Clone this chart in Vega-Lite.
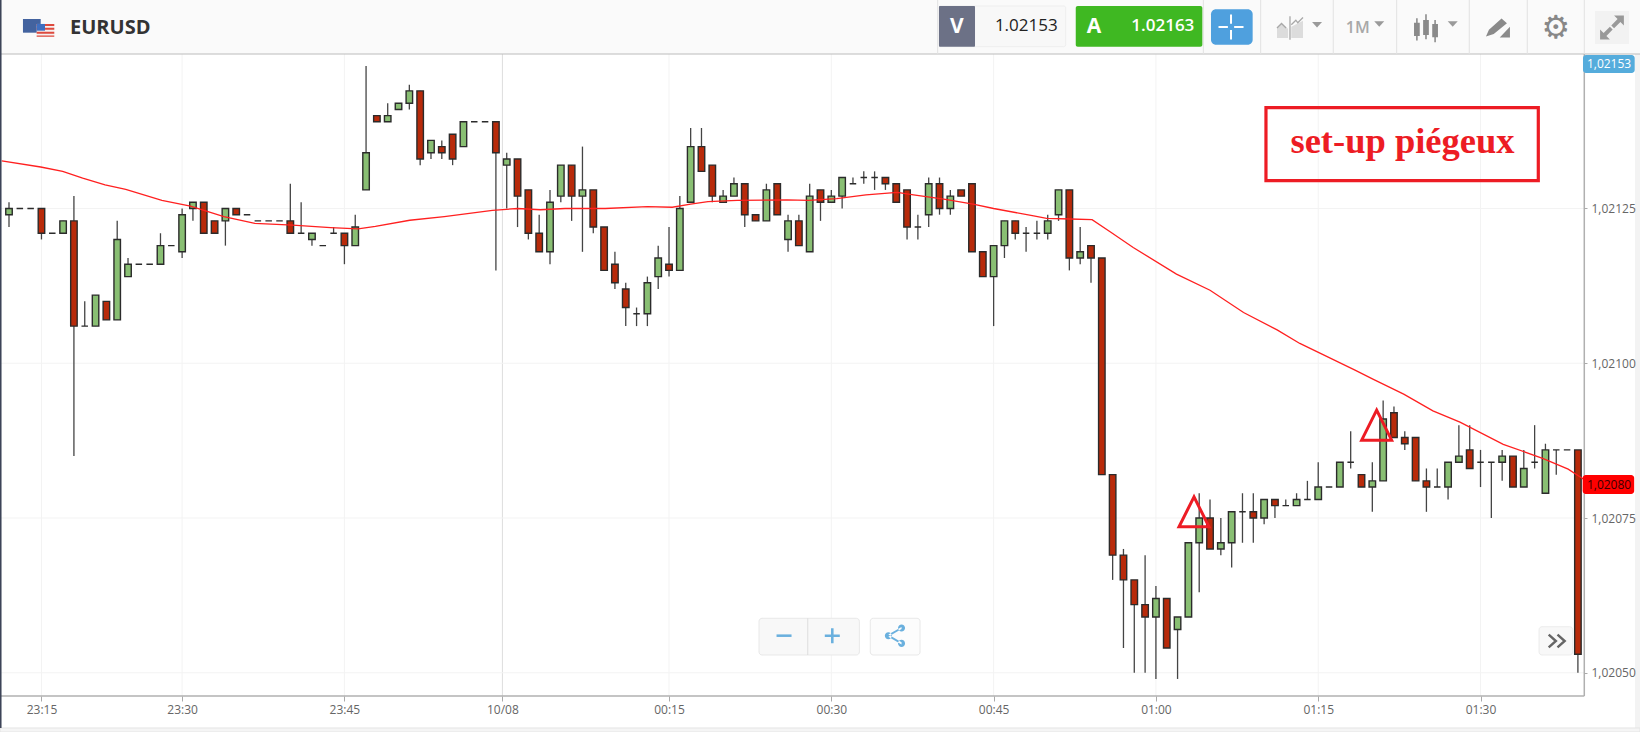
{
  "$schema": "https://vega.github.io/schema/vega-lite/v6.json",
  "width": 1640,
  "height": 732,
  "autosize": "none",
  "padding": 0,
  "background": "#ffffff",
  "config": {
    "view": {"stroke": null},
    "axis": {"labelFont": "Open Sans", "labelFontSize": 12, "labelColor": "#666666", "labelLimit": 0},
    "text": {"font": "Open Sans"}
  },
  "datasets": {
    "candles": [
      {"i":0,"open":1.02124,"high":1.02126,"low":1.02122,"close":1.02125},
      {"i":1,"open":1.02125,"high":1.02125,"low":1.02125,"close":1.02125},
      {"i":2,"open":1.02125,"high":1.02125,"low":1.02125,"close":1.02125},
      {"i":3,"open":1.02125,"high":1.02125,"low":1.0212,"close":1.02121},
      {"i":4,"open":1.02121,"high":1.02121,"low":1.02121,"close":1.02121},
      {"i":5,"open":1.02121,"high":1.02123,"low":1.02121,"close":1.02123},
      {"i":6,"open":1.02123,"high":1.02127,"low":1.02085,"close":1.02106},
      {"i":7,"open":1.02106,"high":1.0211,"low":1.02106,"close":1.02106},
      {"i":8,"open":1.02106,"high":1.02111,"low":1.02106,"close":1.02111},
      {"i":9,"open":1.0211,"high":1.0211,"low":1.02107,"close":1.02107},
      {"i":10,"open":1.02107,"high":1.02123,"low":1.02107,"close":1.0212},
      {"i":11,"open":1.02114,"high":1.02117,"low":1.02114,"close":1.02116},
      {"i":12,"open":1.02116,"high":1.02116,"low":1.02116,"close":1.02116},
      {"i":13,"open":1.02116,"high":1.02116,"low":1.02116,"close":1.02116},
      {"i":14,"open":1.02116,"high":1.02121,"low":1.02116,"close":1.02119},
      {"i":15,"open":1.02119,"high":1.02119,"low":1.02119,"close":1.02119},
      {"i":16,"open":1.02118,"high":1.02125,"low":1.02117,"close":1.02124},
      {"i":17,"open":1.02125,"high":1.02126,"low":1.02123,"close":1.02126},
      {"i":18,"open":1.02126,"high":1.02126,"low":1.02121,"close":1.02121},
      {"i":19,"open":1.02123,"high":1.02123,"low":1.02121,"close":1.02121},
      {"i":20,"open":1.02123,"high":1.02125,"low":1.02119,"close":1.02125},
      {"i":21,"open":1.02125,"high":1.02125,"low":1.02124,"close":1.02124},
      {"i":22,"open":1.02124,"high":1.02124,"low":1.02124,"close":1.02124},
      {"i":23,"open":1.02123,"high":1.02123,"low":1.02123,"close":1.02123},
      {"i":24,"open":1.02123,"high":1.02123,"low":1.02123,"close":1.02123},
      {"i":25,"open":1.02123,"high":1.02123,"low":1.02123,"close":1.02123},
      {"i":26,"open":1.02123,"high":1.02129,"low":1.02121,"close":1.02121},
      {"i":27,"open":1.02121,"high":1.02126,"low":1.02121,"close":1.02121},
      {"i":28,"open":1.0212,"high":1.02121,"low":1.02119,"close":1.02121},
      {"i":29,"open":1.02119,"high":1.02119,"low":1.02119,"close":1.02119},
      {"i":30,"open":1.02121,"high":1.02122,"low":1.02121,"close":1.02121},
      {"i":31,"open":1.02121,"high":1.02121,"low":1.02116,"close":1.02119},
      {"i":32,"open":1.02119,"high":1.02124,"low":1.02119,"close":1.02122},
      {"i":33,"open":1.02128,"high":1.02148,"low":1.02128,"close":1.02134},
      {"i":34,"open":1.0214,"high":1.0214,"low":1.02139,"close":1.02139},
      {"i":35,"open":1.02139,"high":1.02142,"low":1.02139,"close":1.0214},
      {"i":36,"open":1.02141,"high":1.02142,"low":1.02141,"close":1.02142},
      {"i":37,"open":1.02142,"high":1.02145,"low":1.02141,"close":1.02144},
      {"i":38,"open":1.02144,"high":1.02144,"low":1.02132,"close":1.02133},
      {"i":39,"open":1.02134,"high":1.02136,"low":1.02133,"close":1.02136},
      {"i":40,"open":1.02135,"high":1.02136,"low":1.02133,"close":1.02134},
      {"i":41,"open":1.02137,"high":1.02137,"low":1.02132,"close":1.02133},
      {"i":42,"open":1.02135,"high":1.02139,"low":1.02135,"close":1.02139},
      {"i":43,"open":1.02139,"high":1.02139,"low":1.02139,"close":1.02139},
      {"i":44,"open":1.02139,"high":1.02139,"low":1.02139,"close":1.02139},
      {"i":45,"open":1.02139,"high":1.02139,"low":1.02115,"close":1.02134},
      {"i":46,"open":1.02132,"high":1.02134,"low":1.02125,"close":1.02133},
      {"i":47,"open":1.02133,"high":1.02133,"low":1.02122,"close":1.02127},
      {"i":48,"open":1.02128,"high":1.02128,"low":1.0212,"close":1.02121},
      {"i":49,"open":1.02121,"high":1.02124,"low":1.02118,"close":1.02118},
      {"i":50,"open":1.02118,"high":1.02128,"low":1.02116,"close":1.02126},
      {"i":51,"open":1.02127,"high":1.02132,"low":1.02126,"close":1.02132},
      {"i":52,"open":1.02132,"high":1.02132,"low":1.02123,"close":1.02127},
      {"i":53,"open":1.02127,"high":1.02135,"low":1.02118,"close":1.02128},
      {"i":54,"open":1.02128,"high":1.02128,"low":1.02121,"close":1.02122},
      {"i":55,"open":1.02122,"high":1.02122,"low":1.02115,"close":1.02115},
      {"i":56,"open":1.02116,"high":1.02118,"low":1.02112,"close":1.02113},
      {"i":57,"open":1.02112,"high":1.02113,"low":1.02106,"close":1.02109},
      {"i":58,"open":1.02108,"high":1.02109,"low":1.02106,"close":1.02108},
      {"i":59,"open":1.02108,"high":1.02114,"low":1.02106,"close":1.02113},
      {"i":60,"open":1.02114,"high":1.02119,"low":1.02112,"close":1.02117},
      {"i":61,"open":1.02116,"high":1.02122,"low":1.02114,"close":1.02115},
      {"i":62,"open":1.02115,"high":1.02127,"low":1.02115,"close":1.02125},
      {"i":63,"open":1.02126,"high":1.02138,"low":1.02126,"close":1.02135},
      {"i":64,"open":1.02135,"high":1.02138,"low":1.02131,"close":1.02131},
      {"i":65,"open":1.02132,"high":1.02132,"low":1.02126,"close":1.02127},
      {"i":66,"open":1.02126,"high":1.02128,"low":1.02126,"close":1.02127},
      {"i":67,"open":1.02127,"high":1.0213,"low":1.02127,"close":1.02129},
      {"i":68,"open":1.02129,"high":1.02129,"low":1.02122,"close":1.02124},
      {"i":69,"open":1.02124,"high":1.02124,"low":1.02123,"close":1.02123},
      {"i":70,"open":1.02123,"high":1.02129,"low":1.02123,"close":1.02128},
      {"i":71,"open":1.02129,"high":1.02129,"low":1.02124,"close":1.02124},
      {"i":72,"open":1.0212,"high":1.02124,"low":1.02118,"close":1.02123},
      {"i":73,"open":1.02123,"high":1.02124,"low":1.02119,"close":1.02119},
      {"i":74,"open":1.02118,"high":1.02129,"low":1.02118,"close":1.02127},
      {"i":75,"open":1.02128,"high":1.02128,"low":1.02123,"close":1.02126},
      {"i":76,"open":1.02126,"high":1.02128,"low":1.02126,"close":1.02127},
      {"i":77,"open":1.02127,"high":1.0213,"low":1.02125,"close":1.0213},
      {"i":78,"open":1.02129,"high":1.0213,"low":1.02129,"close":1.02129},
      {"i":79,"open":1.0213,"high":1.02131,"low":1.02129,"close":1.0213},
      {"i":80,"open":1.0213,"high":1.02131,"low":1.02128,"close":1.0213},
      {"i":81,"open":1.0213,"high":1.0213,"low":1.02128,"close":1.02129},
      {"i":82,"open":1.02129,"high":1.02129,"low":1.02126,"close":1.02126},
      {"i":83,"open":1.02128,"high":1.02128,"low":1.0212,"close":1.02122},
      {"i":84,"open":1.02122,"high":1.02124,"low":1.0212,"close":1.02122},
      {"i":85,"open":1.02124,"high":1.0213,"low":1.02122,"close":1.02129},
      {"i":86,"open":1.02129,"high":1.0213,"low":1.02124,"close":1.02125},
      {"i":87,"open":1.02125,"high":1.02128,"low":1.02124,"close":1.02127},
      {"i":88,"open":1.02128,"high":1.02128,"low":1.02127,"close":1.02127},
      {"i":89,"open":1.02129,"high":1.02129,"low":1.02118,"close":1.02118},
      {"i":90,"open":1.02118,"high":1.02118,"low":1.02114,"close":1.02114},
      {"i":91,"open":1.02114,"high":1.02119,"low":1.02106,"close":1.02119},
      {"i":92,"open":1.02119,"high":1.02123,"low":1.02117,"close":1.02123},
      {"i":93,"open":1.02123,"high":1.02123,"low":1.0212,"close":1.02121},
      {"i":94,"open":1.02121,"high":1.02122,"low":1.02118,"close":1.02121},
      {"i":95,"open":1.02121,"high":1.02123,"low":1.0212,"close":1.02121},
      {"i":96,"open":1.02121,"high":1.02124,"low":1.0212,"close":1.02123},
      {"i":97,"open":1.02124,"high":1.02128,"low":1.02123,"close":1.02128},
      {"i":98,"open":1.02128,"high":1.02128,"low":1.02115,"close":1.02117},
      {"i":99,"open":1.02117,"high":1.02122,"low":1.02116,"close":1.02118},
      {"i":100,"open":1.02119,"high":1.02119,"low":1.02113,"close":1.02117},
      {"i":101,"open":1.02117,"high":1.02117,"low":1.02082,"close":1.02082},
      {"i":102,"open":1.02082,"high":1.02082,"low":1.02065,"close":1.02069},
      {"i":103,"open":1.02069,"high":1.0207,"low":1.02054,"close":1.02065},
      {"i":104,"open":1.02065,"high":1.02065,"low":1.0205,"close":1.02061},
      {"i":105,"open":1.02061,"high":1.02069,"low":1.0205,"close":1.02059},
      {"i":106,"open":1.02059,"high":1.02064,"low":1.02049,"close":1.02062},
      {"i":107,"open":1.02062,"high":1.02062,"low":1.02054,"close":1.02054},
      {"i":108,"open":1.02057,"high":1.02059,"low":1.02049,"close":1.02059},
      {"i":109,"open":1.02059,"high":1.02071,"low":1.02059,"close":1.02071},
      {"i":110,"open":1.02071,"high":1.02079,"low":1.02063,"close":1.02075},
      {"i":111,"open":1.02075,"high":1.02078,"low":1.0207,"close":1.0207},
      {"i":112,"open":1.0207,"high":1.02075,"low":1.02069,"close":1.02071},
      {"i":113,"open":1.02071,"high":1.02076,"low":1.02067,"close":1.02076},
      {"i":114,"open":1.02076,"high":1.02079,"low":1.02071,"close":1.02076},
      {"i":115,"open":1.02076,"high":1.02079,"low":1.02071,"close":1.02075},
      {"i":116,"open":1.02075,"high":1.02078,"low":1.02074,"close":1.02078},
      {"i":117,"open":1.02078,"high":1.02078,"low":1.02075,"close":1.02077},
      {"i":118,"open":1.02077,"high":1.02078,"low":1.02077,"close":1.02077},
      {"i":119,"open":1.02077,"high":1.02079,"low":1.02077,"close":1.02078},
      {"i":120,"open":1.02078,"high":1.02081,"low":1.02078,"close":1.02078},
      {"i":121,"open":1.02078,"high":1.02084,"low":1.02078,"close":1.0208},
      {"i":122,"open":1.0208,"high":1.0208,"low":1.0208,"close":1.0208},
      {"i":123,"open":1.0208,"high":1.02084,"low":1.0208,"close":1.02084},
      {"i":124,"open":1.02084,"high":1.02089,"low":1.02083,"close":1.02084},
      {"i":125,"open":1.02082,"high":1.02082,"low":1.0208,"close":1.0208},
      {"i":126,"open":1.0208,"high":1.02084,"low":1.02076,"close":1.02081},
      {"i":127,"open":1.02081,"high":1.02094,"low":1.02081,"close":1.02091},
      {"i":128,"open":1.02092,"high":1.02093,"low":1.02088,"close":1.02088},
      {"i":129,"open":1.02088,"high":1.02089,"low":1.02086,"close":1.02087},
      {"i":130,"open":1.02088,"high":1.02088,"low":1.02081,"close":1.02081},
      {"i":131,"open":1.02081,"high":1.02083,"low":1.02076,"close":1.0208},
      {"i":132,"open":1.0208,"high":1.02083,"low":1.0208,"close":1.0208},
      {"i":133,"open":1.0208,"high":1.02084,"low":1.02078,"close":1.02084},
      {"i":134,"open":1.02084,"high":1.0209,"low":1.02084,"close":1.02085},
      {"i":135,"open":1.02086,"high":1.0209,"low":1.02083,"close":1.02083},
      {"i":136,"open":1.02084,"high":1.02086,"low":1.0208,"close":1.02084},
      {"i":137,"open":1.02084,"high":1.02084,"low":1.02075,"close":1.02084},
      {"i":138,"open":1.02084,"high":1.02086,"low":1.02081,"close":1.02085},
      {"i":139,"open":1.02085,"high":1.02085,"low":1.0208,"close":1.0208},
      {"i":140,"open":1.0208,"high":1.02086,"low":1.0208,"close":1.02083},
      {"i":141,"open":1.02084,"high":1.0209,"low":1.02083,"close":1.02084},
      {"i":142,"open":1.02079,"high":1.02087,"low":1.02079,"close":1.02086},
      {"i":143,"open":1.02086,"high":1.02086,"low":1.02082,"close":1.02086},
      {"i":144,"open":1.02086,"high":1.02086,"low":1.02086,"close":1.02086},
      {"i":145,"open":1.02086,"high":1.02086,"low":1.0205,"close":1.02053}
    ],
    "ma": [
      {"i":-0.67,"price":1.021327},{"i":2.93,"price":1.021317},{"i":4.96,"price":1.02131},{"i":6.81,"price":1.021299},
      {"i":8.88,"price":1.021288},{"i":10.79,"price":1.021281},{"i":14.13,"price":1.021263},{"i":16.77,"price":1.021254},
      {"i":19.86,"price":1.021237},{"i":22.72,"price":1.021226},{"i":26.22,"price":1.021223},{"i":29.72,"price":1.021219},
      {"i":32.27,"price":1.021217},{"i":33.86,"price":1.021221},{"i":37.04,"price":1.021231},{"i":40.23,"price":1.021237},
      {"i":44.68,"price":1.021247},{"i":47,"price":1.02125},{"i":49.1,"price":1.021248},{"i":51.4,"price":1.02125},
      {"i":55.1,"price":1.02125},{"i":59,"price":1.021253},{"i":61.3,"price":1.021252},{"i":63,"price":1.021257},
      {"i":64.6,"price":1.021261},{"i":67.3,"price":1.021263},{"i":71.9,"price":1.021264},{"i":73.9,"price":1.021263},
      {"i":76.5,"price":1.021266},{"i":79.2,"price":1.021272},{"i":82.1,"price":1.021276},{"i":83.6,"price":1.021272},
      {"i":86.4,"price":1.021265},{"i":89.1,"price":1.021257},{"i":91,"price":1.02125},{"i":94.7,"price":1.021238},
      {"i":95.9,"price":1.021234},{"i":98.1,"price":1.021233},{"i":100.1,"price":1.021232},{"i":101.8,"price":1.021212},
      {"i":103.9,"price":1.021187},{"i":107.9,"price":1.021144},{"i":111,"price":1.021118},{"i":114.1,"price":1.021082},
      {"i":117.2,"price":1.021054},{"i":119.3,"price":1.021032},{"i":124.4,"price":1.020989},{"i":126.1,"price":1.020974},
      {"i":128.9,"price":1.02095},{"i":131.6,"price":1.020923},{"i":134.1,"price":1.020905},{"i":138.1,"price":1.020869},
      {"i":141.8,"price":1.020846},{"i":144.1,"price":1.020829},{"i":145.5,"price":1.020813}
    ],
    "setups": [
      {"i":109.52,"price":1.02076},
      {"i":126.4,"price":1.0209}
    ],
    "times": [
      {"i":3,"time":"23:15"},{"i":16,"time":"23:30"},{"i":31,"time":"23:45"},{"i":45.6,"time":"10/08"},{"i":61,"time":"00:15"},
      {"i":76,"time":"00:30"},{"i":91,"time":"00:45"},{"i":106,"time":"01:00"},{"i":121,"time":"01:15"},{"i":136,"time":"01:30"}
    ],
    "levels": [
      {"price":1.0205},{"price":1.02075},{"price":1.021},{"price":1.02125}
    ],
    "one": [{}]
  },
  "layer": [
    {
      "data": {"name": "times"},
      "mark": {"type": "rule", "strokeWidth": 1},
      "encoding": {
        "x": {
          "field": "i", "type": "quantitative", "title": null,
          "scale": {"domain": [-0.8318, 150.739], "nice": false, "zero": false, "padding": 0},
          "axis": {
            "values": [3,16,31,45.6,61,76,91,106,121,136],
            "labelExpr": "['23:15','23:30','23:45','10/08','00:15','00:30','00:45','01:00','01:15','01:30'][indexof([3,16,31,45.6,61,76,91,106,121,136],datum.value)]",
            "offset": -36, "domain": false, "grid": false, "tickColor": "#aaaaaa", "tickSize": 5, "labelPadding": 3,
            "labelOverlap": false, "labelFlush": false, "zindex": 1
          }
        },
        "y": {"datum": 1.0214996, "type": "quantitative"},
        "y2": {"datum": 1.0204624},
        "color": {"condition": {"test": "datum.time === '10/08'", "value": "#dddddd"}, "value": "#f3f3f3"}
      }
    },
    {
      "data": {"name": "levels"},
      "mark": {"type": "rule", "color": "#f3f3f3", "strokeWidth": 1},
      "encoding": {
        "y": {
          "field": "price", "type": "quantitative", "title": null,
          "scale": {"domain": [1.0204043, 1.0215868], "nice": false, "zero": false},
          "axis": {
            "orient": "right",
            "values": [1.0205,1.02075,1.021,1.02125],
            "labelExpr": "replace(format(datum.value,'.5f'),'.',',')",
            "offset": -56, "domain": false, "grid": false, "tickColor": "#aaaaaa", "tickSize": 3, "labelPadding": 4,
            "labelOverlap": false, "labelFlush": false, "zindex": 1
          }
        },
        "x": {"datum": -0.83, "type": "quantitative"},
        "x2": {"datum": 145.59}
      }
    },
    {
      "data": {"name": "candles"},
      "mark": {"type": "rule", "color": "#444444", "strokeWidth": 1.3},
      "encoding": {
        "x": {"field": "i", "type": "quantitative"},
        "y": {"field": "low", "type": "quantitative"},
        "y2": {"field": "high"}
      }
    },
    {
      "data": {"name": "candles"},
      "mark": {"type": "bar", "size": 6.5, "stroke": "#2b2b2b", "strokeWidth": 1.4},
      "encoding": {
        "x": {"field": "i", "type": "quantitative"},
        "y": {"field": "open", "type": "quantitative"},
        "y2": {"field": "close"},
        "color": {"condition": {"test": "datum.close >= datum.open", "value": "#89bf73"}, "value": "#b82a0a"}
      }
    },
    {
      "data": {"name": "ma"},
      "mark": {"type": "line", "color": "#ff2020", "strokeWidth": 1.3},
      "encoding": {
        "x": {"field": "i", "type": "quantitative"},
        "y": {"field": "price", "type": "quantitative"}
      }
    },
    {
      "data": {"name": "setups"},
      "mark": {"type": "point", "shape": "M0,-1L-1,1L1,1Z", "size": 900, "filled": false, "stroke": "#ed1c24", "strokeWidth": 3, "opacity": 1},
      "encoding": {
        "x": {"field": "i", "type": "quantitative"},
        "y": {"field": "price", "type": "quantitative"}
      }
    },
    {
      "data": {"name": "one"},
      "layer": [
        {
          "mark": {"type": "rect", "fill": null, "stroke": "#ed1c24", "strokeWidth": 3.2},
          "encoding": {
            "x": {"datum": 116.17, "type": "quantitative"}, "x2": {"datum": 141.34},
            "y": {"datum": 1.0214128, "type": "quantitative"}, "y2": {"datum": 1.0212949}
          }
        },
        {
          "mark": {"type": "text", "text": "set-up piégeux", "font": "Liberation Serif", "fontWeight": "bold", "fontSize": 36.5, "color": "#ed1c24", "align": "center", "baseline": "alphabetic"},
          "encoding": {"x": {"datum": 128.79, "type": "quantitative"}, "y": {"datum": 1.0213397, "type": "quantitative"}}
        },
        {
          "mark": {"type": "rule", "color": "#b0b0b0", "strokeWidth": 1.5},
          "encoding": {"y": {"datum": 1.0204624, "type": "quantitative"}, "x": {"datum": -0.83, "type": "quantitative"}, "x2": {"datum": 145.59}}
        },
        {
          "mark": {"type": "rule", "color": "#b0b0b0", "strokeWidth": 1.5},
          "encoding": {"x": {"datum": 145.59, "type": "quantitative"}, "y": {"datum": 1.0214996, "type": "quantitative"}, "y2": {"datum": 1.0204624}}
        },
        {
          "mark": {"type": "rect", "fill": "#f3f3f3"},
          "encoding": {"x": {"datum": 150.28, "type": "quantitative"}, "x2": {"datum": 150.74}, "y": {"datum": 1.0214996, "type": "quantitative"}, "y2": {"datum": 1.0204043}}
        },
        {
          "mark": {"type": "rect", "fill": "#f5f5f5", "stroke": "#e4e4e4", "strokeWidth": 1},
          "encoding": {"x": {"datum": -0.83, "type": "quantitative"}, "x2": {"datum": 150.74}, "y": {"datum": 1.0204108, "type": "quantitative"}, "y2": {"datum": 1.0204043}}
        },
        {
          "mark": {"type": "rect", "fill": "#fafafa"},
          "encoding": {"x": {"datum": -0.83, "type": "quantitative"}, "x2": {"datum": 150.74}, "y": {"datum": 1.0215868, "type": "quantitative"}, "y2": {"datum": 1.0214996}}
        },
        {
          "mark": {"type": "rule", "color": "#bbbbbb", "strokeWidth": 1.2},
          "encoding": {"y": {"datum": 1.0214996, "type": "quantitative"}, "x": {"datum": -0.83, "type": "quantitative"}, "x2": {"datum": 150.74}}
        },
        {
          "mark": {"type": "rect", "fill": "#3a4256"},
          "encoding": {"x": {"datum": -0.83, "type": "quantitative"}, "x2": {"datum": -0.69}, "y": {"datum": 1.0215868, "type": "quantitative"}, "y2": {"datum": 1.0204108}}
        },
        {
          "mark": {"type": "rect", "fill": "#43639f"},
          "encoding": {"x": {"datum": 1.29, "type": "quantitative"}, "x2": {"datum": 2.93}, "y": {"datum": 1.0215561, "type": "quantitative"}, "y2": {"datum": 1.021534}}
        },
        {
          "mark": {"type": "rect", "fill": "#f6f0f0"},
          "encoding": {"x": {"datum": 2.56, "type": "quantitative"}, "x2": {"datum": 4.19}, "y": {"datum": 1.0215481, "type": "quantitative"}, "y2": {"datum": 1.0215275}}
        },
        {
          "mark": {"type": "point", "shape": "M-1,-0.72H1V-0.5H-1ZM-1,-0.28H1V-0.06H-1ZM-1,0.16H1V0.38H-1ZM-1,0.58H1V0.72H-1Z", "size": 310, "filled": true, "color": "#dd4a3e", "opacity": 1},
          "encoding": {"x": {"datum": 3.37, "type": "quantitative"}, "y": {"datum": 1.0215378, "type": "quantitative"}}
        },
        {
          "mark": {"type": "rect", "fill": "#3f6fc0"},
          "encoding": {"x": {"datum": 2.56, "type": "quantitative"}, "x2": {"datum": 3.33}, "y": {"datum": 1.0215481, "type": "quantitative"}, "y2": {"datum": 1.0215372}}
        },
        {
          "mark": {"type": "text", "text": "EURUSD", "fontWeight": "bold", "fontSize": 20, "color": "#333333", "align": "left", "baseline": "middle"},
          "encoding": {"x": {"datum": 5.64, "type": "quantitative"}, "y": {"datum": 1.0215411, "type": "quantitative"}}
        },
        {
          "mark": {"type": "rule", "color": "#e2e2e2", "strokeWidth": 1},
          "encoding": {"x": {"datum": 85.83, "type": "quantitative"}, "y": {"datum": 1.0215868, "type": "quantitative"}, "y2": {"datum": 1.0214996}}
        },
        {
          "mark": {"type": "rule", "color": "#e2e2e2", "strokeWidth": 1},
          "encoding": {"x": {"datum": 110.38, "type": "quantitative"}, "y": {"datum": 1.0215868, "type": "quantitative"}, "y2": {"datum": 1.0214996}}
        },
        {
          "mark": {"type": "rule", "color": "#e2e2e2", "strokeWidth": 1},
          "encoding": {"x": {"datum": 115.68, "type": "quantitative"}, "y": {"datum": 1.0215868, "type": "quantitative"}, "y2": {"datum": 1.0214996}}
        },
        {
          "mark": {"type": "rule", "color": "#e2e2e2", "strokeWidth": 1},
          "encoding": {"x": {"datum": 122.39, "type": "quantitative"}, "y": {"datum": 1.0215868, "type": "quantitative"}, "y2": {"datum": 1.0214996}}
        },
        {
          "mark": {"type": "rule", "color": "#e2e2e2", "strokeWidth": 1},
          "encoding": {"x": {"datum": 128.25, "type": "quantitative"}, "y": {"datum": 1.0215868, "type": "quantitative"}, "y2": {"datum": 1.0214996}}
        },
        {
          "mark": {"type": "rule", "color": "#e2e2e2", "strokeWidth": 1},
          "encoding": {"x": {"datum": 134.96, "type": "quantitative"}, "y": {"datum": 1.0215868, "type": "quantitative"}, "y2": {"datum": 1.0214996}}
        },
        {
          "mark": {"type": "rule", "color": "#e2e2e2", "strokeWidth": 1},
          "encoding": {"x": {"datum": 140.32, "type": "quantitative"}, "y": {"datum": 1.0215868, "type": "quantitative"}, "y2": {"datum": 1.0214996}}
        },
        {
          "mark": {"type": "rule", "color": "#e2e2e2", "strokeWidth": 1},
          "encoding": {"x": {"datum": 145.59, "type": "quantitative"}, "y": {"datum": 1.0215868, "type": "quantitative"}, "y2": {"datum": 1.0214996}}
        },
        {
          "mark": {"type": "rect", "fill": "#f8f8f8", "stroke": "#eeeeee", "cornerRadius": 2},
          "encoding": {"x": {"datum": 85.95, "type": "quantitative"}, "x2": {"datum": 97.66}, "y": {"datum": 1.0215771, "type": "quantitative"}, "y2": {"datum": 1.0215114}}
        },
        {
          "mark": {"type": "rect", "fill": "#6c7186", "cornerRadius": 1},
          "encoding": {"x": {"datum": 85.95, "type": "quantitative"}, "x2": {"datum": 89.28}, "y": {"datum": 1.0215771, "type": "quantitative"}, "y2": {"datum": 1.0215114}}
        },
        {
          "mark": {"type": "text", "text": "V", "fontWeight": "bold", "fontSize": 21, "color": "#ffffff", "align": "center", "baseline": "middle"},
          "encoding": {"x": {"datum": 87.61, "type": "quantitative"}, "y": {"datum": 1.0215432, "type": "quantitative"}}
        },
        {
          "mark": {"type": "text", "text": "1.02153", "fontSize": 17, "color": "#222222", "align": "right", "baseline": "middle"},
          "encoding": {"x": {"datum": 96.92, "type": "quantitative"}, "y": {"datum": 1.0215448, "type": "quantitative"}}
        },
        {
          "mark": {"type": "rect", "fill": "#3fb822", "cornerRadius": 2},
          "encoding": {"x": {"datum": 98.59, "type": "quantitative"}, "x2": {"datum": 110.29}, "y": {"datum": 1.0215771, "type": "quantitative"}, "y2": {"datum": 1.0215114}}
        },
        {
          "mark": {"type": "text", "text": "A", "fontWeight": "bold", "fontSize": 21, "color": "#ffffff", "align": "center", "baseline": "middle"},
          "encoding": {"x": {"datum": 100.28, "type": "quantitative"}, "y": {"datum": 1.0215432, "type": "quantitative"}}
        },
        {
          "mark": {"type": "text", "text": "1.02163", "fontSize": 17, "fontWeight": 600, "color": "#ffffff", "align": "right", "baseline": "middle"},
          "encoding": {"x": {"datum": 109.55, "type": "quantitative"}, "y": {"datum": 1.0215448, "type": "quantitative"}}
        },
        {
          "mark": {"type": "rect", "fill": "#4fa0de", "cornerRadius": 5},
          "encoding": {"x": {"datum": 111.09, "type": "quantitative"}, "x2": {"datum": 114.94}, "y": {"datum": 1.0215718, "type": "quantitative"}, "y2": {"datum": 1.0215146}}
        },
        {
          "mark": {"type": "point", "shape": "M-1,0H-0.25M0.25,0H1M0,-1V-0.25M0,0.25V1", "size": 625, "filled": false, "stroke": "#ffffff", "strokeWidth": 2, "opacity": 1},
          "encoding": {"x": {"datum": 112.94, "type": "quantitative"}, "y": {"datum": 1.0215432, "type": "quantitative"}}
        },
        {
          "mark": {"type": "point", "shape": "M-1,0.77L-1,-0.05L-0.65,-0.35L-0.3,-0.05L-0.15,0.05L-0.15,0.77ZM0.1,0.77L0.1,-0.1L1,-0.55L1,0.77Z", "size": 676, "filled": true, "color": "#dcdcdc", "opacity": 1},
          "encoding": {"x": {"datum": 118.39, "type": "quantitative"}, "y": {"datum": 1.0215416, "type": "quantitative"}}
        },
        {
          "mark": {"type": "point", "shape": "M-1,0L-0.65,-0.35L-0.3,0M0.1,-0.25L0.45,-0.6L0.6,-0.4L1,-0.8M0,-0.9V0.9", "size": 676, "filled": false, "stroke": "#a8a8a8", "strokeWidth": 1.3, "opacity": 1},
          "encoding": {"x": {"datum": 118.39, "type": "quantitative"}, "y": {"datum": 1.0215416, "type": "quantitative"}}
        },
        {
          "mark": {"type": "point", "shape": "M-1,-0.55H1L0,0.55Z", "size": 100, "filled": true, "color": "#9a9a9a", "opacity": 1},
          "encoding": {"x": {"datum": 120.89, "type": "quantitative"}, "y": {"datum": 1.0215469, "type": "quantitative"}}
        },
        {
          "mark": {"type": "text", "text": "1M", "fontSize": 16, "fontWeight": 600, "color": "#a8a8a8", "align": "center", "baseline": "middle"},
          "encoding": {"x": {"datum": 124.65, "type": "quantitative"}, "y": {"datum": 1.0215416, "type": "quantitative"}}
        },
        {
          "mark": {"type": "point", "shape": "M-1,-0.55H1L0,0.55Z", "size": 100, "filled": true, "color": "#9a9a9a", "opacity": 1},
          "encoding": {"x": {"datum": 126.64, "type": "quantitative"}, "y": {"datum": 1.0215481, "type": "quantitative"}}
        },
        {
          "mark": {"type": "point", "shape": "M-0.92,-0.41H-0.48V0.62H-0.92ZM-0.76,-0.74H-0.64V0.97H-0.76ZM-0.22,-0.62H0.22V0.54H-0.22ZM-0.06,-1.05H0.06V0.87H-0.06ZM0.48,-0.31H0.92V0.72H0.48ZM0.64,-0.62H0.76V1.1H0.64Z", "size": 676, "filled": true, "color": "#8a8a8a", "opacity": 1},
          "encoding": {"x": {"datum": 130.96, "type": "quantitative"}, "y": {"datum": 1.0215416, "type": "quantitative"}}
        },
        {
          "mark": {"type": "point", "shape": "M-1,-0.55H1L0,0.55Z", "size": 100, "filled": true, "color": "#9a9a9a", "opacity": 1},
          "encoding": {"x": {"datum": 133.43, "type": "quantitative"}, "y": {"datum": 1.0215481, "type": "quantitative"}}
        },
        {
          "mark": {"type": "point", "shape": "M-1,0.7L-0.75,0.15L0.3,-0.8L0.75,-0.4L-0.35,0.5ZM0.15,0.8L1,-0.1L1,0.8Z", "size": 576, "filled": true, "color": "#8a8a8a", "opacity": 1},
          "encoding": {"x": {"datum": 137.61, "type": "quantitative"}, "y": {"datum": 1.0215416, "type": "quantitative"}}
        },
        {
          "mark": {"type": "text", "text": "⚙", "font": "DejaVu Sans", "fontWeight": "bold", "fontSize": 32, "color": "#888888", "align": "center", "baseline": "middle"},
          "encoding": {"x": {"datum": 142.95, "type": "quantitative"}, "y": {"datum": 1.0215411, "type": "quantitative"}}
        },
        {
          "mark": {"type": "rect", "fill": "#f2f2f2"},
          "encoding": {"x": {"datum": 146.58, "type": "quantitative"}, "x2": {"datum": 149.72}, "y": {"datum": 1.0215691, "type": "quantitative"}, "y2": {"datum": 1.0215157}}
        },
        {
          "mark": {"type": "point", "shape": "M0.15,-0.85H0.85V-0.15L0.6,-0.4L0.15,0.05L-0.05,-0.15L0.4,-0.6ZM-0.15,0.85H-0.85V0.15L-0.6,0.4L-0.15,-0.05L0.05,0.15L-0.4,0.6Z", "size": 784, "filled": true, "color": "#999999", "opacity": 1},
          "encoding": {"x": {"datum": 148.15, "type": "quantitative"}, "y": {"datum": 1.0215424, "type": "quantitative"}}
        },
        {
          "mark": {"type": "rect", "fill": "#55acdc", "cornerRadius": 3},
          "encoding": {"x": {"datum": 145.47, "type": "quantitative"}, "x2": {"datum": 150.25}, "y": {"datum": 1.021498, "type": "quantitative"}, "y2": {"datum": 1.0214689}}
        },
        {
          "mark": {"type": "text", "text": "1,02153", "fontSize": 12, "color": "#ffffff", "align": "center", "baseline": "middle"},
          "encoding": {"x": {"datum": 147.88, "type": "quantitative"}, "y": {"datum": 1.0214834, "type": "quantitative"}}
        },
        {
          "mark": {"type": "rect", "fill": "#ff0000", "cornerRadius": 3},
          "encoding": {"x": {"datum": 145.44, "type": "quantitative"}, "x2": {"datum": 150.2}, "y": {"datum": 1.0208195, "type": "quantitative"}, "y2": {"datum": 1.0207888}}
        },
        {
          "mark": {"type": "text", "text": "1,02080", "fontSize": 12, "color": "#3a0000", "align": "center", "baseline": "middle"},
          "encoding": {"x": {"datum": 147.88, "type": "quantitative"}, "y": {"datum": 1.0208038, "type": "quantitative"}}
        },
        {
          "mark": {"type": "rect", "fill": "#f8f8f8", "stroke": "#e8e8e8", "cornerRadius": 3},
          "encoding": {"x": {"datum": 69.32, "type": "quantitative"}, "x2": {"datum": 78.59}, "y": {"datum": 1.020588, "type": "quantitative"}, "y2": {"datum": 1.0205287}}
        },
        {
          "mark": {"type": "rule", "color": "#dddddd", "strokeWidth": 1},
          "encoding": {"x": {"datum": 73.82, "type": "quantitative"}, "y": {"datum": 1.020588, "type": "quantitative"}, "y2": {"datum": 1.0205287}}
        },
        {
          "mark": {"type": "point", "shape": "M-1,-0.17H1V0.17H-1Z", "size": 225, "filled": true, "color": "#6ab0de", "opacity": 1},
          "encoding": {"x": {"datum": 71.63, "type": "quantitative"}, "y": {"datum": 1.0205599, "type": "quantitative"}}
        },
        {
          "mark": {"type": "point", "shape": "M-1,-0.17H-0.17V-1H0.17V-0.17H1V0.17H0.17V1H-0.17V0.17H-1Z", "size": 225, "filled": true, "color": "#6ab0de", "opacity": 1},
          "encoding": {"x": {"datum": 76.09, "type": "quantitative"}, "y": {"datum": 1.0205599, "type": "quantitative"}}
        },
        {
          "mark": {"type": "rect", "fill": "#fcfcfc", "stroke": "#e8e8e8", "cornerRadius": 3},
          "encoding": {"x": {"datum": 79.6, "type": "quantitative"}, "x2": {"datum": 84.2}, "y": {"datum": 1.020588, "type": "quantitative"}, "y2": {"datum": 1.0205287}}
        },
        {
          "mark": {"type": "point", "shape": "M-0.6,-0.32a0.32,0.32 0 1,0 0.001,0ZM0.6,-1.02a0.32,0.32 0 1,0 0.001,0ZM0.6,0.38a0.32,0.32 0 1,0 0.001,0ZM-0.6,-0.1L0.6,-0.8L0.6,-0.6L-0.6,0.1ZM-0.6,-0.1L0.6,0.6L0.6,0.8L-0.6,0.1Z", "size": 484, "filled": true, "color": "#6ab0de", "opacity": 1},
          "encoding": {"x": {"datum": 81.88, "type": "quantitative"}, "y": {"datum": 1.0205599, "type": "quantitative"}}
        },
        {
          "mark": {"type": "rect", "fill": "#f8f8f8", "stroke": "#ececec", "cornerRadius": 3},
          "encoding": {"x": {"datum": 141.41, "type": "quantitative"}, "x2": {"datum": 144.52}, "y": {"datum": 1.0205744, "type": "quantitative"}, "y2": {"datum": 1.0205287}}
        },
        {
          "mark": {"type": "point", "shape": "M-1,-0.8L-0.1,0L-1,0.8M0.1,-0.8L1,0L0.1,0.8", "size": 256, "filled": false, "stroke": "#666666", "strokeWidth": 2.4, "opacity": 1},
          "encoding": {"x": {"datum": 143.04, "type": "quantitative"}, "y": {"datum": 1.0205513, "type": "quantitative"}}
        }
      ]
    }
  ]
}
